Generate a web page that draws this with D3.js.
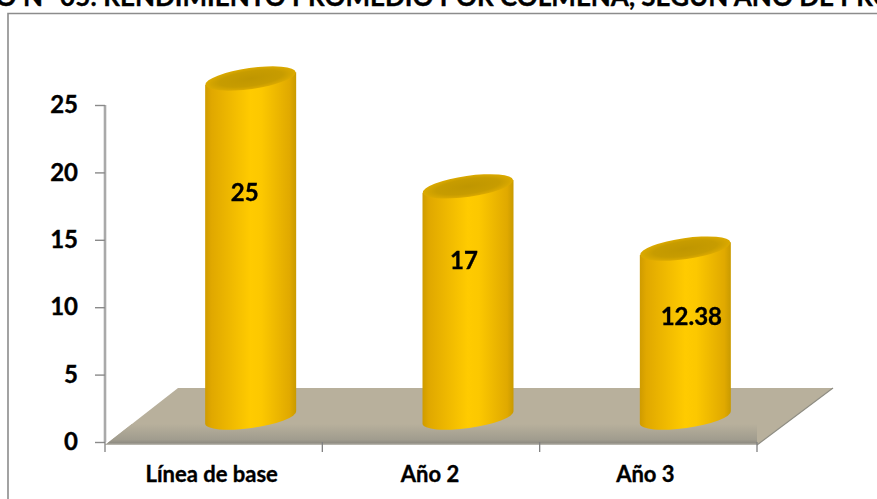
<!DOCTYPE html>
<html><head><meta charset="utf-8">
<script src="https://cdn.jsdelivr.net/npm/d3@7/dist/d3.min.js"></script>
<style>html,body{margin:0;padding:0;background:#fff;overflow:hidden}svg{display:block}text{font-family:Lato,"Open Sans",sans-serif;font-weight:700;fill:#000;stroke:#000;stroke-width:0.35px}</style>
</head><body><svg id="c" width="877" height="499"></svg>
<script>
const titleText = "GRÁFICO N° 05: RENDIMIENTO PROMEDIO POR COLMENA, SEGÚN AÑO DE PROYECTO";
const categories = ["Línea de base", "Año 2", "Año 3"];
const values = [25, 17, 12.38];
const valueLabels = ["25", "17", "12.38"];
const yTicks = [0, 5, 10, 15, 20, 25];

const W = 877, H = 499;
const svg = d3.select("#c");
const x = d3.scaleBand().domain(categories).range([105, 757]);
const y = d3.scaleLinear().domain([0, 25]).range([442, 105]);
const labelY = d3.scaleLinear().domain([12.38, 17, 25]).range([316, 260, 192]);

const defs = svg.append("defs");
const body = defs.append("linearGradient").attr("id", "body");
[[0,"#cf9b00"],[0.07,"#e0a800"],[0.5,"#ffcb00"],[0.62,"#fcc800"],[0.93,"#e0a900"],[1,"#c99a00"]]
  .forEach(([o,c]) => body.append("stop").attr("offset", o).attr("stop-color", c));
const capFill = defs.append("radialGradient").attr("id", "cap");
[[0,"#bf9600"],[0.7,"#c79c00"],[1,"#dcaa00"]]
  .forEach(([o,c]) => capFill.append("stop").attr("offset", o).attr("stop-color", c));
const strip = defs.append("linearGradient").attr("id", "strip").attr("x1",0).attr("x2",0).attr("y1",0).attr("y2",1);
[[0,"#b8b09c"],[0.75,"#a09c8e"],[0.9,"#8f8c82"],[1,"#c4c2ba"]]
  .forEach(([o,c]) => strip.append("stop").attr("offset", o).attr("stop-color", c));
const soft = defs.append("filter").attr("id","soft").attr("x","-10%").attr("y","-10%").attr("width","120%").attr("height","120%");
soft.append("feGaussianBlur").attr("stdDeviation",0.7);

// title and frame
svg.append("text").attr("x", 440).attr("y", 6).attr("text-anchor","middle")
   .attr("font-size", 26).text(titleText);
svg.append("path").attr("d", `M8,${H}V13.5H${W}`).attr("fill","none").attr("stroke","#8c8c8c").attr("stroke-width",1.6);

// floor
const [fx0, fx1] = x.range(), f0 = y(0), fTop = 388, skew = 75;
const floorPts = [[fx0,f0+3],[fx1,f0+3],[fx1+skew+1,fTop],[fx0+skew-2,fTop]];
defs.append("clipPath").attr("id","floorClip").append("path").attr("d", d3.line()(floorPts));
const floor = svg.append("g").attr("filter","url(#soft)");
floor.append("path").attr("fill","#b8b09c").attr("d", d3.line()(floorPts));
floor.append("rect").attr("clip-path","url(#floorClip)").attr("x",fx0).attr("y",424).attr("width",fx1-fx0).attr("height",21).attr("fill","url(#strip)");
floor.append("path").attr("fill","none").attr("stroke","#8f8d84").attr("stroke-width",1.2)
  .attr("d", d3.line()([[fx1,f0+3],[fx1+skew+1,fTop]]));

// y axis
const yAxis = d3.axisLeft(y).tickValues(yTicks).tickSize(10).tickPadding(17).tickFormat(d3.format("d"));
const gy = svg.append("g").attr("transform",`translate(${fx0},0)`).call(yAxis);
gy.select(".domain").attr("stroke","#a9a9a9").attr("stroke-width",2.6).attr("d",`M0,${y(25)}V${y(0)}`);
gy.selectAll(".tick line").attr("stroke","#8a8a8a").attr("stroke-width",1.4);
gy.selectAll(".tick text").attr("font-size",24).attr("font-family","Lato").attr("font-weight",700).attr("fill","#000");

// x axis
const xAxis = d3.axisBottom(x).tickSize(0).tickPadding(0);
const gx = svg.append("g").attr("transform",`translate(0,${f0})`).call(xAxis);
gx.select(".domain").remove();
gx.selectAll(".tick text").attr("y",40).attr("dy",0).attr("dx",(d,i)=>[-2,-1,-3][i]).attr("font-size",22).attr("font-family","Lato").attr("font-weight",700).attr("fill","#000");
const edges = [fx0, fx0 + x.step(), fx0 + 2*x.step(), fx1];
svg.append("g").selectAll("line").data(edges).join("line")
  .attr("x1",d=>d).attr("x2",d=>d).attr("y1",f0).attr("y2",f0+10)
  .attr("stroke","#808080").attr("stroke-width",1.3);

// cylinders
const rx = 45.5, ry = 10.5, tilt = -8, dy = 6.3, lift = 26.5, shift = 37;
const g = svg.append("g").attr("filter","url(#soft)");
categories.forEach((c,i) => {
  const cx = x(c) + x.bandwidth()/2 + shift;
  const t = y(values[i]) - lift, b = y(0) - lift + 2;
  g.append("path").attr("fill","url(#body)")
   .attr("d",`M${cx-rx},${t+dy}L${cx-rx},${b+dy}A${rx},${ry} ${tilt} 0 0 ${cx+rx},${b-dy}L${cx+rx},${t-dy}Z`);
  g.append("ellipse").attr("cx",cx).attr("cy",t).attr("rx",rx).attr("ry",ry)
   .attr("transform",`rotate(${tilt} ${cx} ${t})`).attr("fill","url(#cap)");
});

// value labels
svg.append("g").selectAll("text").data(values).join("text")
  .attr("x",(d,i)=>x(categories[i])+x.bandwidth()/2+[31,33,43][i])
  .attr("y",d=>labelY(d)).attr("dy","0.36em").attr("text-anchor","middle")
  .attr("font-size",24).text((d,i)=>valueLabels[i]);
</script></body></html>
